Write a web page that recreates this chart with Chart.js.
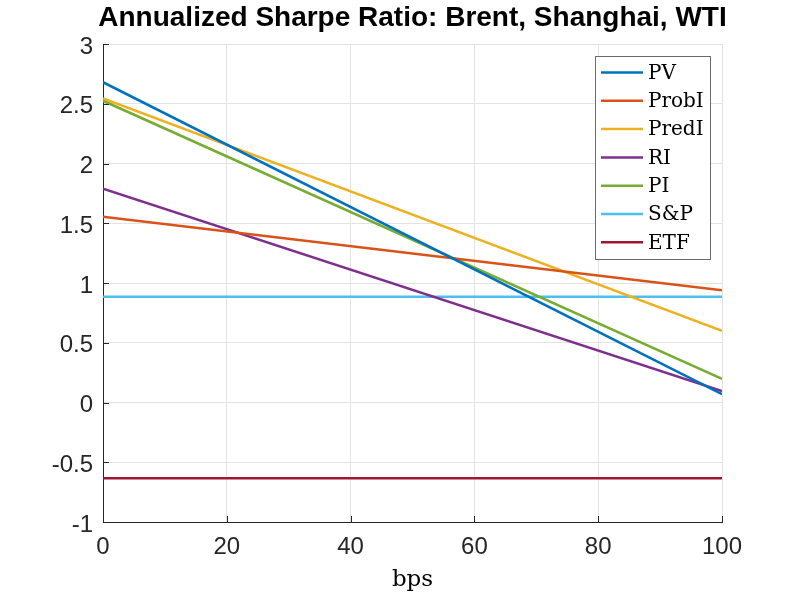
<!DOCTYPE html>
<html>
<head>
<meta charset="utf-8">
<script src="https://cdn.jsdelivr.net/npm/chart.js@4.4.1/dist/chart.umd.min.js"></script>
<style>
  html, body { margin: 0; padding: 0; background: #fff; }
  #wrap { width: 797px; height: 598px; }
</style>
</head>
<body>
<div id="wrap"><canvas id="c" width="797" height="598"></canvas></div>
<script>
// transaction cost levels (bps)
const bps = [0, 100];

// annualized Sharpe ratio per strategy
const pv    = [2.68, 0.07];
const probI = [1.555, 0.94];
const predI = [2.545, 0.60];
const ri    = [1.79, 0.095];
const pi    = [2.525, 0.197];
const sp    = [0.885, 0.885];
const etf   = [-0.634, -0.634];

const xTicks = [0, 20, 40, 60, 80, 100];
const yTicks = ['-1', '-0.5', '0', '0.5', '1', '1.5', '2', '2.5', '3'];

const titleText = 'Annualized Sharpe Ratio: Brent, Shanghai, WTI';

const toPoints = vals => vals.map((v, i) => ({ x: bps[i], y: v }));

const series = [
  { label: 'PV',    values: pv,    color: '#0072BD' },
  { label: 'ProbI', values: probI, color: '#D95319' },
  { label: 'PredI', values: predI, color: '#EDB120' },
  { label: 'RI',    values: ri,    color: '#7E2F8E' },
  { label: 'PI',    values: pi,    color: '#77AC30' },
  { label: 'S&P',   values: sp,    color: '#4DBEEE' },
  { label: 'ETF',   values: etf,   color: '#A2142F' }
];

const sansFont = '"Liberation Sans", Arial, sans-serif';
const serifFont = '"DejaVu Serif", serif';

// title, inward tick marks and the boxed legend, MATLAB style
const matlabBits = {
  id: 'matlabBits',
  afterDraw(chart) {
    const ctx = chart.ctx;
    const area = chart.chartArea;
    const xs = chart.scales.x, ys = chart.scales.y;
    ctx.save();

    // tick marks pointing into the axes
    ctx.strokeStyle = '#262626';
    ctx.lineWidth = 1;
    ctx.beginPath();
    xTicks.forEach(t => {
      const px = Math.round(xs.getPixelForValue(t)) + 0.5;
      ctx.moveTo(px, area.bottom);
      ctx.lineTo(px, area.bottom - 6);
    });
    yTicks.forEach(t => {
      const py = Math.round(ys.getPixelForValue(Number(t))) + 0.5;
      ctx.moveTo(area.left, py);
      ctx.lineTo(area.left + 6, py);
    });
    ctx.stroke();

    // title centred over the plot area
    ctx.fillStyle = '#000';
    ctx.font = 'bold 28px ' + sansFont;
    ctx.textAlign = 'center';
    ctx.textBaseline = 'middle';
    ctx.fillText(titleText, (area.left + area.right) / 2, 18);

    // legend box
    const bx = 595, by = 56, bw = 115, bh = 203;
    ctx.fillStyle = '#fff';
    ctx.fillRect(bx, by, bw, bh);
    ctx.strokeStyle = '#6b6b6b';
    ctx.strokeRect(bx + 0.5, by + 0.5, bw, bh);
    ctx.font = '20px ' + serifFont;
    ctx.textAlign = 'left';
    chart.data.datasets.forEach((ds, i) => {
      const cy = 72.5 + i * 28.3;
      ctx.strokeStyle = ds.borderColor;
      ctx.lineWidth = 2.5;
      ctx.beginPath();
      ctx.moveTo(601, cy);
      ctx.lineTo(643, cy);
      ctx.stroke();
      ctx.fillStyle = '#000';
      ctx.fillText(ds.label, 648, cy + 1);
    });
    ctx.restore();
  }
};

new Chart(document.getElementById('c'), {
  type: 'line',
  data: {
    datasets: series.map(s => ({
      label: s.label,
      data: toPoints(s.values),
      borderColor: s.color,
      backgroundColor: s.color,
      borderWidth: 2.5,
      pointRadius: 0,
      tension: 0
    }))
  },
  options: {
    responsive: false,
    animation: false,
    layout: { padding: { top: 44, right: 75, left: 0, bottom: 0 } },
    plugins: {
      legend: { display: false },
      title: { display: false },
      tooltip: { enabled: false }
    },
    scales: {
      x: {
        type: 'linear',
        min: 0,
        max: 100,
        afterBuildTicks: scale => { scale.ticks = xTicks.map(v => ({ value: v })); },
        afterFit: scale => { scale.height = 76; },
        ticks: {
          padding: 11,
          color: '#262626',
          font: { family: sansFont, size: 24 },
          callback: v => String(v)
        },
        grid: { color: '#e3e3e3', drawTicks: false },
        border: { color: '#262626', width: 1 },
        title: {
          display: true,
          text: 'bps',
          color: '#000',
          font: { family: serifFont, size: 23 },
          padding: { top: 0, bottom: 4 }
        }
      },
      y: {
        type: 'linear',
        min: -1,
        max: 3,
        afterBuildTicks: scale => { scale.ticks = yTicks.map(v => ({ value: Number(v) })); },
        afterFit: scale => { scale.width = 103; },
        ticks: {
          padding: 10,
          labelOffset: 3,
          color: '#262626',
          font: { family: sansFont, size: 24 },
          callback: (v, i) => yTicks[i]
        },
        grid: { color: '#e3e3e3', drawTicks: false },
        border: { color: '#262626', width: 1 }
      }
    }
  },
  plugins: [matlabBits]
});
</script>
</body>
</html>
